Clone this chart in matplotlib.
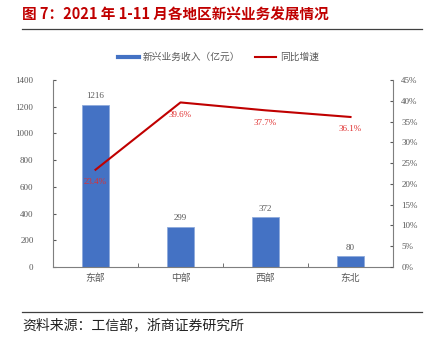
import matplotlib
matplotlib.use("Agg")
import matplotlib.pyplot as plt
from matplotlib.lines import Line2D
import numpy as np

plt.rcParams['font.family'] = ['Noto Sans CJK SC', 'DejaVu Sans']

categories = ['东部', '中部', '西部', '东北']
revenue = [1216, 299, 372, 80]
growth = [23.4, 39.6, 37.7, 36.1]
left_ticks = [0, 200, 400, 600, 800, 1000, 1200, 1400]
right_ticks = [0, 5, 10, 15, 20, 25, 30, 35, 40, 45]

BLUE = '#4472C4'
RED = '#C00000'
GRAY = '#595959'
serif = ['Liberation Serif', 'DejaVu Serif']

fig = plt.figure(figsize=(4.37, 3.45), dpi=100)
ax = fig.add_axes([53/437, 1-267/345, 340/437, 187/345])
x = np.arange(len(categories))
ax.bar(x, revenue, width=0.32, color=BLUE, edgecolor='#8FAADC', linewidth=0.6, zorder=2)
ax.set_xlim(-0.5, 3.5)
ax.set_ylim(0, 1400)
ax.set_yticks(left_ticks)
ax.set_yticklabels([str(t) for t in left_ticks], family=serif, fontsize=6.5, color=GRAY)
ax.set_xticks(x)
ax.set_xticklabels(categories, fontsize=7, color=GRAY)
ax.set_xticks([0.5, 1.5, 2.5], minor=True)
ax.tick_params(axis='x', which='major', length=0, pad=4)
ax.tick_params(axis='x', which='minor', length=3, direction='in', color=GRAY)
ax.tick_params(axis='y', length=2, direction='in', color=GRAY, pad=14)
for s in ['top', 'right']:
    ax.spines[s].set_visible(False)
for s in ['left', 'bottom']:
    ax.spines[s].set_color('#7F7F7F')
    ax.spines[s].set_linewidth(0.8)
for xi, v in zip(x, revenue):
    ax.text(xi, v + 35, str(v), ha='center', va='bottom', family=serif, fontsize=6.5, color=GRAY)

ax2 = ax.twinx()
ax2.plot(x, growth, color=RED, linewidth=1.5, zorder=3)
ax2.set_ylim(0, 45)
ax2.set_yticks(right_ticks)
ax2.set_yticklabels([f'{t}%' for t in right_ticks], family=serif, fontsize=6.5, color=GRAY)
ax2.tick_params(axis='y', length=2, direction='in', color=GRAY, pad=6)
for s in ['top', 'left', 'bottom']:
    ax2.spines[s].set_visible(False)
ax2.spines['right'].set_color('#7F7F7F')
ax2.spines['right'].set_linewidth(0.8)
for xi, g in zip(x, growth):
    ax2.text(xi, g - 2.0, f'{g}%', ha='center', va='top', family=serif, fontsize=6.5, color='#E03030')

handles = [Line2D([0], [0], color=BLUE, lw=3), Line2D([0], [0], color=RED, lw=1.5)]
fig.legend(handles, ['新兴业务收入（亿元）', '同比增速'], loc='center', bbox_to_anchor=(0.5, 1-57/345),
           ncol=2, frameon=False, fontsize=7, handlelength=2.2, handletextpad=0.4, columnspacing=1.5,
           labelcolor=GRAY)

fig.text(22/437, 1-15/345, '图 7：2021 年 1-11 月各地区新兴业务发展情况', ha='left', va='center',
         fontsize=10.5, fontweight='bold', color=RED)
fig.add_artist(Line2D([22/437, 422/437], [1-29/345, 1-29/345], color='#404040', lw=0.9))
fig.add_artist(Line2D([22/437, 422/437], [1-312/345, 1-312/345], color='#404040', lw=0.9))
fig.text(22/437, 1-325/345, '资料来源：工信部，浙商证券研究所', ha='left', va='center', fontsize=10, color='#222222')

fig.savefig('out.png', dpi=100)
